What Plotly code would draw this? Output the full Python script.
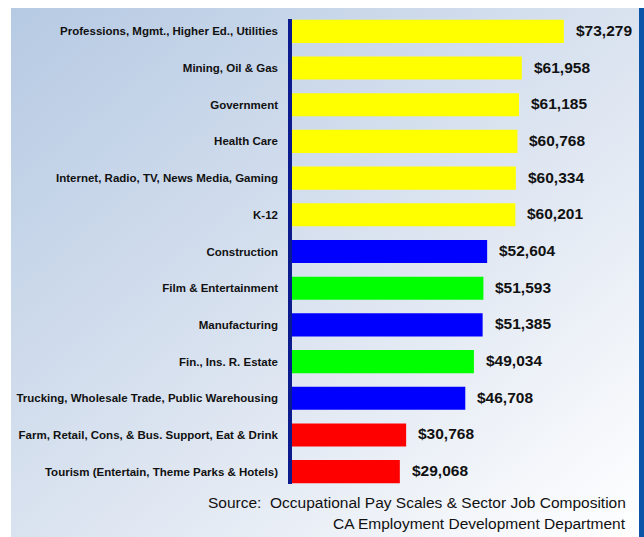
import plotly.graph_objects as go

categories = [
    "Professions, Mgmt., Higher Ed., Utilities",
    "Mining, Oil & Gas",
    "Government",
    "Health Care",
    "Internet, Radio, TV, News Media, Gaming",
    "K-12",
    "Construction",
    "Film & Entertainment",
    "Manufacturing",
    "Fin., Ins. R. Estate",
    "Trucking, Wholesale Trade, Public Warehousing",
    "Farm, Retail, Cons, & Bus. Support, Eat & Drink",
    "Tourism (Entertain, Theme Parks & Hotels)",
]
values = [73279, 61958, 61185, 60768, 60334, 60201, 52604, 51593, 51385, 49034, 46708, 30768, 29068]
groups = ["top", "top", "top", "top", "top", "top", "blue", "green", "blue", "green", "blue", "red", "red"]
source_lines = ["Source:  Occupational Pay Scales & Sector Job Composition",
                "CA Employment Development Department"]

group_colors = {"top": "#FFFF00", "blue": "#0000FF", "green": "#00FF00", "red": "#FF0000"}
colors = [group_colors[g] for g in groups]

W, H = 644, 537
ML, MR, MT, MB = 292, 14, 13, 47
PW, PH = W - ML - MR, H - MT - MB
px_per_dollar = 0.00371
xmax = PW / px_per_dollar

def px_x(p):
    return (p - ML) / PW

def px_y(p):
    return 1 - (p - MT) / PH

fig = go.Figure()
fig.add_trace(go.Bar(
    y=categories, x=values, orientation="h",
    marker=dict(color=colors, line=dict(width=0)),
    hoverinfo="skip",
))

FONT = "Liberation Sans, Arial, sans-serif"

annotations = []
for c, v in zip(categories, values):
    annotations.append(dict(
        x=v, y=c, xref="x", yref="y", text=f"<b>${v:,}</b>", showarrow=False,
        xanchor="left", yanchor="middle", xshift=10, yshift=1,
        font=dict(family=FONT, size=15.5, color="#111111"),
    ))
for i, line in enumerate(source_lines):
    annotations.append(dict(
        x=px_x(628), y=px_y(502 + 21 * i), xref="paper", yref="paper",
        text=line, showarrow=False, xanchor="right", yanchor="middle",
        font=dict(family=FONT, size=15.5, color="#111111"),
    ))

svg = ("data:image/svg+xml;utf8,"
       "<svg xmlns='http://www.w3.org/2000/svg' width='628' height='529' preserveAspectRatio='none'>"
       "<defs><linearGradient id='g' x1='0' y1='0' x2='1' y2='1'>"
       "<stop offset='0' stop-color='%23B6CAE3'/><stop offset='0.55' stop-color='%23DDE5F1'/>"
       "<stop offset='1' stop-color='%23FFFFFF'/></linearGradient></defs>"
       "<rect width='628' height='529' fill='url(%23g)'/></svg>")

fig.update_layout(
    width=W, height=H,
    margin=dict(l=ML, r=MR, t=MT, b=MB, autoexpand=False),
    paper_bgcolor="white", plot_bgcolor="rgba(0,0,0,0)",
    bargap=0.37, showlegend=False,
    xaxis=dict(range=[0, xmax], visible=False, fixedrange=True, automargin=False),
    yaxis=dict(autorange="reversed", showgrid=False, zeroline=False, showline=False,
               ticks="", ticklabelstandoff=13, automargin=False,
               tickfont=dict(family=FONT, size=11.5, color="#111111", weight="bold")),
    annotations=annotations,
    images=[dict(source=svg, xref="paper", yref="paper",
                 x=px_x(11), y=px_y(8), sizex=px_x(639) - px_x(11), sizey=px_y(8) - px_y(537),
                 xanchor="left", yanchor="top", sizing="stretch", layer="below")],
    shapes=[
        dict(type="rect", xref="paper", yref="paper", x0=px_x(639), x1=px_x(645),
             y0=px_y(8), y1=px_y(540), fillcolor="#0A55A8", line=dict(width=0), layer="below"),
        dict(type="rect", xref="paper", yref="paper", x0=px_x(288), x1=px_x(292),
             y0=px_y(19), y1=px_y(484),
             fillcolor="#0B1A8C", line=dict(width=0), layer="above"),
    ],
)

fig.write_html("out.html", config={"displayModeBar": False},
               post_script="document.body.style.margin='0';document.body.style.overflow='hidden';")
